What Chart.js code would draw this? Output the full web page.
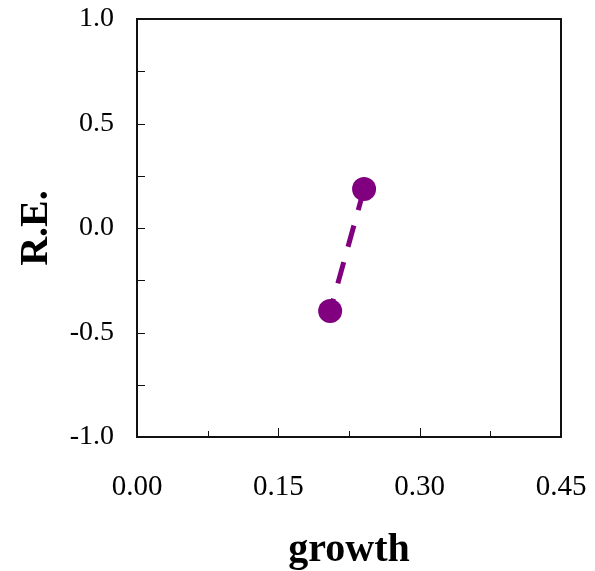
<!DOCTYPE html>
<html>
<head>
<meta charset="utf-8">
<script src="https://cdn.jsdelivr.net/npm/chart.js@4.4.1/dist/chart.umd.min.js"></script>
<style>
  html, body { margin: 0; padding: 0; background: #fff; }
  #wrap { width: 595px; height: 571px; }
</style>
</head>
<body>
<div id="wrap"><canvas id="reChart" width="595" height="571"></canvas></div>
<script>
// growth vs R.E. values
const growth = [0.241, 0.205];
const relErr = [0.187, -0.397];

const xTicks = [0, 0.075, 0.15, 0.225, 0.30, 0.375, 0.45];
const xTickLabels = ["0.00", "", "0.15", "", "0.30", "", "0.45"];
const yTicks = [-1, -0.75, -0.5, -0.25, 0, 0.25, 0.5, 0.75, 1];
const yTickLabels = ["-1.0", "", "-0.5", "", "0.0", "", "0.5", "", "1.0"];

const PURPLE = "rgb(128,0,128)";
const SERIF = "'Liberation Serif', 'Times New Roman', serif";

// frame round the plot plus short inward tick marks
const framePlugin = {
    id: "frame",
    afterDraw(chart) {
        const ctx = chart.ctx;
        const a = chart.chartArea;
        const xs = chart.scales.x;
        const ys = chart.scales.y;
        ctx.save();
        ctx.strokeStyle = "#111";
        ctx.lineWidth = 1;
        xs.ticks.forEach((t, i) => {
            const px = Math.round(xs.getPixelForValue(t.value)) + 0.5;
            const len = xTickLabels[i] ? 9 : 6;
            ctx.beginPath();
            ctx.moveTo(px, a.bottom);
            ctx.lineTo(px, a.bottom - len);
            ctx.stroke();
        });
        ys.ticks.forEach(t => {
            const py = Math.round(ys.getPixelForValue(t.value)) + 0.5;
            ctx.beginPath();
            ctx.moveTo(a.left, py);
            ctx.lineTo(a.left + 8, py);
            ctx.stroke();
        });
        ctx.lineWidth = 2;
        ctx.strokeRect(a.left, a.top, a.right - a.left, a.bottom - a.top);
        ctx.restore();
    }
};

// fixed axis sizes; edge labels may hang into the outer margin
const fitX = s => {
    s.height = 134;
    s.paddingLeft = 0;
    s.paddingRight = 0;
};
const fitY = s => {
    s.width = 137;
    s.paddingTop = 0;
    s.paddingBottom = 0;
};

const ctx = document.getElementById("reChart").getContext("2d");

new Chart(ctx, {
    type: "scatter",
    data: {
        datasets: [{
            data: growth.map((g, i) => ({ x: g, y: relErr[i] })),
            showLine: true,
            borderColor: PURPLE,
            backgroundColor: PURPLE,
            borderWidth: 5,
            borderDash: [22, 16],
            pointRadius: 12,
            pointBorderWidth: 0,
            pointBackgroundColor: PURPLE
        }]
    },
    options: {
        responsive: false,
        animation: false,
        layout: { padding: { top: 19, right: 34, left: 0, bottom: 0 } },
        plugins: {
            legend: { display: false },
            tooltip: { enabled: false }
        },
        scales: {
            x: {
                type: "linear",
                min: 0,
                max: 0.45,
                afterBuildTicks: s => { s.ticks = xTicks.map(v => ({ value: v })); },
                afterFit: fitX,
                grid: { display: false, drawTicks: false },
                border: { display: false },
                ticks: {
                    autoSkip: false,
                    maxRotation: 0,
                    padding: 33,
                    color: "#000",
                    font: { family: SERIF, size: 29 },
                    callback: (v, i) => xTickLabels[i]
                },
                title: {
                    display: true,
                    text: "growth",
                    color: "#000",
                    padding: { top: 0, bottom: -4 },
                    font: { family: SERIF, size: 40, weight: "bold" }
                }
            },
            y: {
                type: "linear",
                min: -1,
                max: 1,
                afterBuildTicks: s => { s.ticks = yTicks.map(v => ({ value: v })); },
                afterFit: fitY,
                grid: { display: false, drawTicks: false },
                border: { display: false },
                ticks: {
                    autoSkip: false,
                    padding: 23,
                    color: "#000",
                    font: { family: SERIF, size: 28 },
                    callback: (v, i) => yTickLabels[i]
                },
                title: {
                    display: true,
                    text: "R.E.",
                    color: "#000",
                    padding: { top: 13, bottom: 0 },
                    font: { family: SERIF, size: 40, weight: "bold" }
                }
            }
        }
    },
    plugins: [framePlugin]
});
</script>
</body>
</html>
